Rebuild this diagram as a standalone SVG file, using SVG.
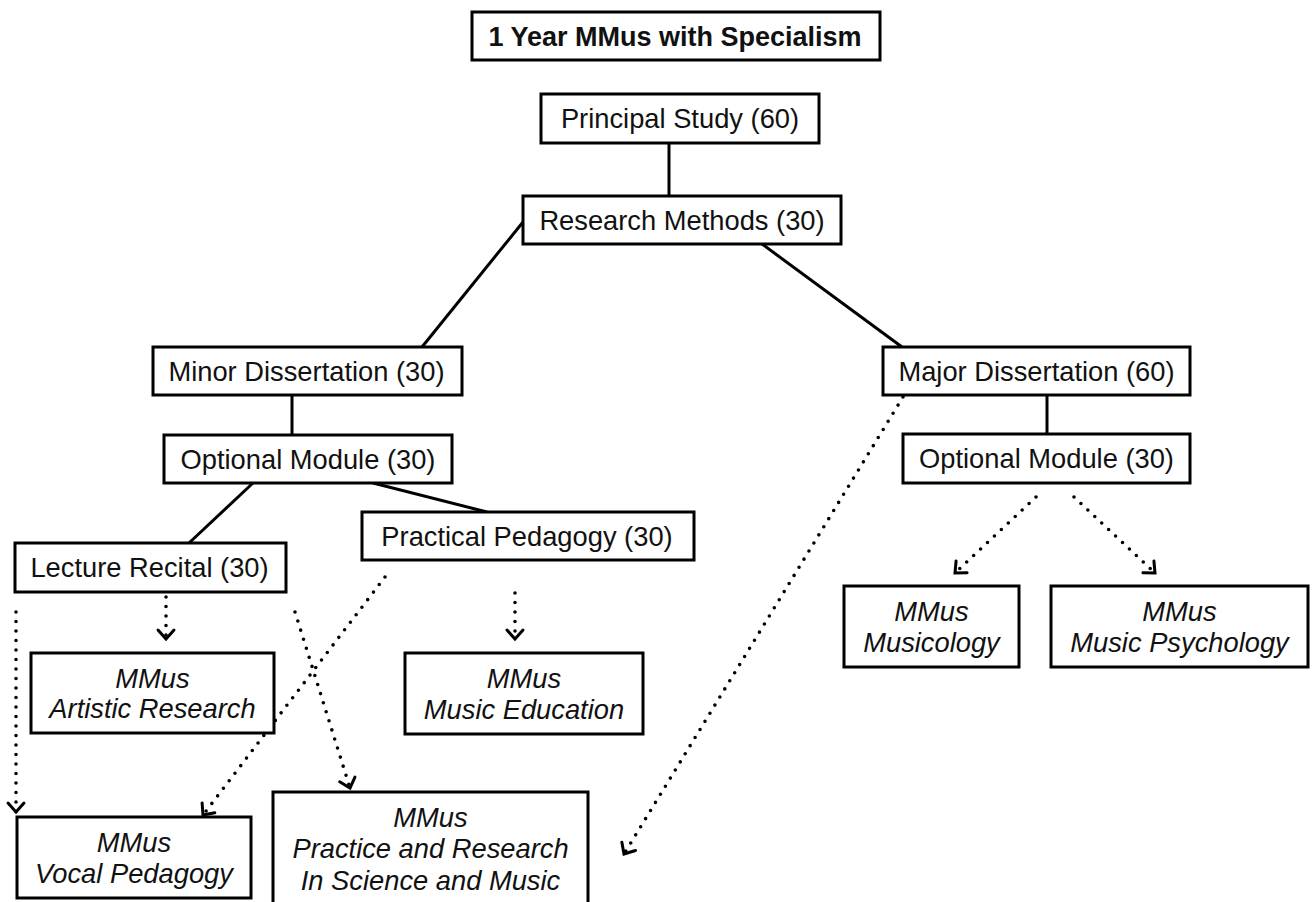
<svg xmlns="http://www.w3.org/2000/svg" width="1312" height="902" viewBox="0 0 1312 902">
<style>
  .box { fill: #ffffff; stroke: #000000; stroke-width: 3; }
  .t { font-family: "Liberation Sans", Arial, sans-serif; font-size: 27.3px; fill: #111111; text-anchor: middle; }
  .title { font-weight: bold; font-size: 27px; }
  .it { font-style: italic; }
  .solid { stroke: #000000; stroke-width: 3; fill: none; }
  .dot { stroke: #000000; stroke-width: 3.6; stroke-linecap: round; stroke-dasharray: 0 9.5; fill: none; marker-end: url(#chev); }
</style>
<defs>
  <marker id="chev" markerUnits="userSpaceOnUse" markerWidth="24" markerHeight="24" viewBox="-12 -12 24 24" refX="0" refY="0" orient="auto" overflow="visible">
    <path d="M -9 -8 L 0 0 L -9 8" fill="none" stroke="#000000" stroke-width="3" stroke-dasharray="none" stroke-linecap="round" stroke-linejoin="miter"/>
  </marker>
</defs>
<rect width="1312" height="902" fill="#ffffff"/>

<g id="connectors">
  <line class="solid" x1="669" y1="143" x2="669" y2="196"/>
  <line class="solid" x1="523" y1="222" x2="422" y2="347"/>
  <line class="solid" x1="762" y1="244" x2="902" y2="347"/>
  <line class="solid" x1="292" y1="395" x2="292" y2="435"/>
  <line class="solid" x1="253" y1="483" x2="189" y2="543"/>
  <line class="solid" x1="373" y1="483" x2="487" y2="512"/>
  <line class="solid" x1="1047" y1="395" x2="1047" y2="434"/>

  <line class="dot" x1="16" y1="612" x2="16" y2="812"/>
  <line class="dot" x1="166" y1="597" x2="166" y2="639"/>
  <line class="dot" x1="295" y1="612" x2="350" y2="788"/>
  <line class="dot" x1="385" y1="577" x2="203" y2="815"/>
  <line class="dot" x1="515" y1="593" x2="515" y2="639"/>
  <line class="dot" x1="903" y1="397" x2="624" y2="854"/>
  <line class="dot" x1="1036" y1="497" x2="955" y2="573"/>
  <line class="dot" x1="1074" y1="497" x2="1155" y2="573"/>
</g>

<g id="title">
  <rect class="box" x="472" y="12" width="408" height="48"/>
  <text class="t title" x="675" y="46">1 Year MMus with Specialism</text>
</g>
<g id="principal-study">
  <rect class="box" x="541" y="94" width="278" height="49"/>
  <text class="t" x="680" y="128">Principal Study (60)</text>
</g>
<g id="research-methods">
  <rect class="box" x="523" y="196" width="318" height="48"/>
  <text class="t" x="682" y="230">Research Methods (30)</text>
</g>
<g id="minor-dissertation">
  <rect class="box" x="153" y="347" width="309" height="48"/>
  <text class="t" x="306.5" y="381">Minor Dissertation (30)</text>
</g>
<g id="major-dissertation">
  <rect class="box" x="883" y="347" width="307" height="48"/>
  <text class="t" x="1036.5" y="381">Major Dissertation (60)</text>
</g>
<g id="optional-module-left">
  <rect class="box" x="164" y="435" width="288" height="48"/>
  <text class="t" x="308" y="469">Optional Module (30)</text>
</g>
<g id="optional-module-right">
  <rect class="box" x="903" y="434" width="287" height="49"/>
  <text class="t" x="1046.5" y="468">Optional Module (30)</text>
</g>
<g id="lecture-recital">
  <rect class="box" x="15" y="543" width="271" height="49"/>
  <text class="t" x="149.5" y="577">Lecture Recital (30)</text>
</g>
<g id="practical-pedagogy">
  <rect class="box" x="362" y="512" width="332" height="48"/>
  <text class="t" x="527" y="546">Practical Pedagogy (30)</text>
</g>
<g id="mmus-artistic-research">
  <rect class="box" x="31" y="653" width="243" height="80"/>
  <text class="t it" x="152.5" y="687.5">MMus</text>
  <text class="t it" x="152.5" y="718">Artistic Research</text>
</g>
<g id="mmus-music-education">
  <rect class="box" x="405" y="653" width="238" height="81"/>
  <text class="t it" x="524" y="688">MMus</text>
  <text class="t it" x="524" y="719">Music Education</text>
</g>
<g id="mmus-musicology">
  <rect class="box" x="844" y="586" width="175" height="81"/>
  <text class="t it" x="931.5" y="620.5">MMus</text>
  <text class="t it" x="931.5" y="651.5">Musicology</text>
</g>
<g id="mmus-music-psychology">
  <rect class="box" x="1051" y="586" width="257" height="81"/>
  <text class="t it" x="1179.5" y="620.5">MMus</text>
  <text class="t it" x="1179.5" y="651.5">Music Psychology</text>
</g>
<g id="mmus-vocal-pedagogy">
  <rect class="box" x="17" y="817" width="234" height="81"/>
  <text class="t it" x="134" y="851.5">MMus</text>
  <text class="t it" x="134" y="882.5">Vocal Pedagogy</text>
</g>
<g id="mmus-practice-research">
  <rect class="box" x="273" y="792" width="315" height="116"/>
  <text class="t it" x="430.5" y="826.5">MMus</text>
  <text class="t it" x="430.5" y="858">Practice and Research</text>
  <text class="t it" x="430.5" y="889.5">In Science and Music</text>
</g>
</svg>
